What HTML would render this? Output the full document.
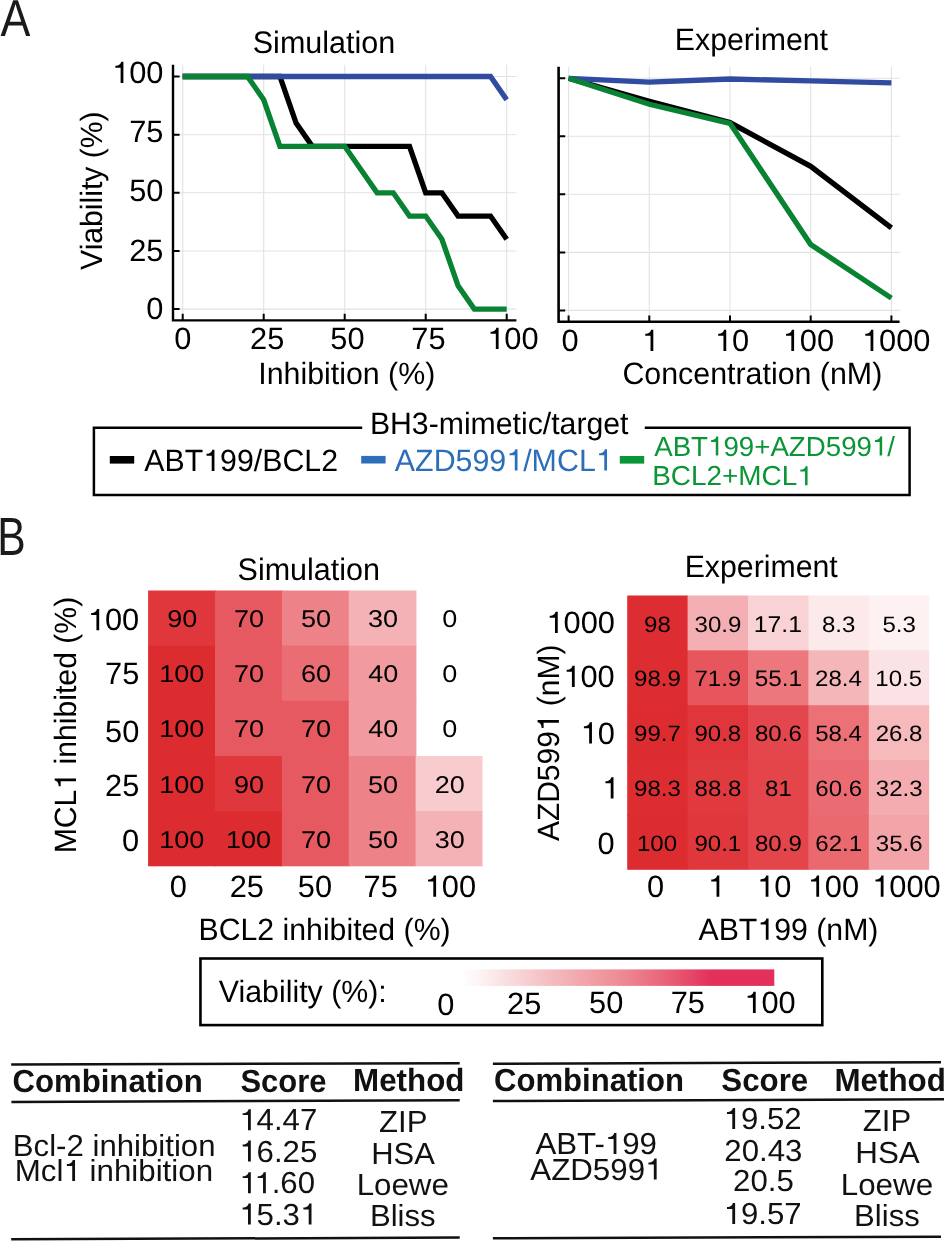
<!DOCTYPE html>
<html><head><meta charset="utf-8"><style>
html,body{margin:0;padding:0;background:#fff;overflow:hidden;}
svg{display:block;will-change:transform;}
text{font-family:"Liberation Sans", sans-serif;text-rendering:geometricPrecision;}
.o{fill-opacity:0;}
</style></head><body>
<svg width="944" height="1241" viewBox="0 0 944 1241">
<rect width="944" height="1241" fill="#fff"></rect>
<g stroke="#e2e2e2" stroke-width="1.1"><line x1="182.7" y1="64.7" x2="182.7" y2="320"></line><line x1="173" y1="309.1" x2="516.4" y2="309.1"></line><line x1="263.7" y1="64.7" x2="263.7" y2="320"></line><line x1="173" y1="251.0" x2="516.4" y2="251.0"></line><line x1="344.7" y1="64.7" x2="344.7" y2="320"></line><line x1="173" y1="192.8" x2="516.4" y2="192.8"></line><line x1="425.7" y1="64.7" x2="425.7" y2="320"></line><line x1="173" y1="134.7" x2="516.4" y2="134.7"></line><line x1="506.7" y1="64.7" x2="506.7" y2="320"></line><line x1="173" y1="76.5" x2="516.4" y2="76.5"></line></g>
<path d="M173,64.7 V321.6 M171.9,320.4 H516.4" stroke="#000" stroke-width="2.4" fill="none"></path>
<path d="M173,309.1 H179.6 M182.7,320 V313.8 M173,251.0 H179.6 M263.7,320 V313.8 M173,192.8 H179.6 M344.7,320 V313.8 M173,134.7 H179.6 M425.7,320 V313.8 M173,76.5 H179.6 M506.7,320 V313.8" stroke="#000" stroke-width="2" fill="none"></path>
<polyline points="182.7,76.5 279.9,76.5 296.1,123.0 312.3,146.3 409.5,146.3 425.7,192.8 441.9,192.8 458.1,216.1 490.5,216.1 506.7,239.3" fill="none" stroke="#000" stroke-width="5.3" stroke-linejoin="miter" stroke-miterlimit="4"></polyline>
<polyline points="182.7,76.5 490.5,76.5 506.7,99.8" fill="none" stroke="#304ba0" stroke-width="5.3" stroke-linejoin="miter" stroke-miterlimit="4"></polyline>
<polyline points="182.7,76.5 247.5,76.5 263.7,99.8 279.9,146.3 344.7,146.3 377.1,192.8 393.3,192.8 409.5,216.1 425.7,216.1 441.9,239.3 458.1,285.8 474.3,309.1 506.7,309.1" fill="none" stroke="#0a8234" stroke-width="5.3" stroke-linejoin="miter" stroke-miterlimit="4"></polyline>
<g stroke="#e2e2e2" stroke-width="1.1"><line x1="568.6" y1="66.8" x2="568.6" y2="321.7"></line><line x1="649.3" y1="66.8" x2="649.3" y2="321.7"></line><line x1="730.0" y1="66.8" x2="730.0" y2="321.7"></line><line x1="810.7" y1="66.8" x2="810.7" y2="321.7"></line><line x1="891.4" y1="66.8" x2="891.4" y2="321.7"></line><line x1="558.6" y1="310.4" x2="899.6" y2="310.4"></line><line x1="558.6" y1="252.4" x2="899.6" y2="252.4"></line><line x1="558.6" y1="194.3" x2="899.6" y2="194.3"></line><line x1="558.6" y1="136.3" x2="899.6" y2="136.3"></line><line x1="558.6" y1="78.3" x2="899.6" y2="78.3"></line></g>
<path d="M558.6,66.8 V323.0 M558.6,321.7 H899.6" stroke="#000" stroke-width="2.6" fill="none"></path>
<path d="M558.6,310.4 H565.2 M558.6,252.4 H565.2 M558.6,194.3 H565.2 M558.6,136.3 H565.2 M558.6,78.3 H565.2 M568.6,321.7 V315.5 M649.3,321.7 V315.5 M730.0,321.7 V315.5 M810.7,321.7 V315.5 M891.4,321.7 V315.5" stroke="#000" stroke-width="2" fill="none"></path>
<polyline points="568.6,78.3 649.3,101.3 730.0,122.6 810.7,166.3 891.4,227.8" fill="none" stroke="#000" stroke-width="5.3" stroke-linejoin="miter" stroke-miterlimit="4"></polyline>
<polyline points="568.6,78.3 649.3,82.2 730.0,79.0 810.7,80.9 891.4,82.9" fill="none" stroke="#304ba0" stroke-width="5.3" stroke-linejoin="miter" stroke-miterlimit="4"></polyline>
<polyline points="568.6,78.3 649.3,104.3 730.0,123.3 810.7,244.5 891.4,298.1" fill="none" stroke="#0a8234" stroke-width="5.3" stroke-linejoin="miter" stroke-miterlimit="4"></polyline>
<path d="M362.2,427.8 H93.9 V494.9 H909.6 V427.8 H644.8" fill="none" stroke="#000" stroke-width="2.5"></path>
<rect x="109.8" y="456.0" width="24.4" height="7.6" fill="#000"></rect>
<rect x="361.2" y="455.9" width="24.4" height="7.6" fill="#2d6eb9"></rect>
<rect x="619.8" y="456.0" width="24.4" height="7.6" fill="#0a9637"></rect>
<rect x="148.10" y="590.50" width="67.68" height="55.96" fill="#e0373c"></rect>
<rect x="214.98" y="590.50" width="67.68" height="55.96" fill="#e75960"></rect>
<rect x="281.86" y="590.50" width="67.68" height="55.96" fill="#ed8389"></rect>
<rect x="348.74" y="590.50" width="67.68" height="55.96" fill="#f4b2b6"></rect>
<rect x="148.10" y="645.66" width="67.68" height="55.96" fill="#dd2c30"></rect>
<rect x="214.98" y="645.66" width="67.68" height="55.96" fill="#e75960"></rect>
<rect x="281.86" y="645.66" width="67.68" height="55.96" fill="#ea6d74"></rect>
<rect x="348.74" y="645.66" width="67.68" height="55.96" fill="#f19a9f"></rect>
<rect x="148.10" y="700.82" width="67.68" height="55.96" fill="#dd2c30"></rect>
<rect x="214.98" y="700.82" width="67.68" height="55.96" fill="#e75960"></rect>
<rect x="281.86" y="700.82" width="67.68" height="55.96" fill="#e75960"></rect>
<rect x="348.74" y="700.82" width="67.68" height="55.96" fill="#f19a9f"></rect>
<rect x="148.10" y="755.98" width="67.68" height="55.96" fill="#dd2c30"></rect>
<rect x="214.98" y="755.98" width="67.68" height="55.96" fill="#e0373c"></rect>
<rect x="281.86" y="755.98" width="67.68" height="55.96" fill="#e75960"></rect>
<rect x="348.74" y="755.98" width="67.68" height="55.96" fill="#ed8389"></rect>
<rect x="415.62" y="755.98" width="66.88" height="55.96" fill="#f8cbce"></rect>
<rect x="148.10" y="811.14" width="67.68" height="55.16" fill="#dd2c30"></rect>
<rect x="214.98" y="811.14" width="67.68" height="55.16" fill="#dd2c30"></rect>
<rect x="281.86" y="811.14" width="67.68" height="55.16" fill="#e75960"></rect>
<rect x="348.74" y="811.14" width="67.68" height="55.16" fill="#ed8389"></rect>
<rect x="415.62" y="811.14" width="66.88" height="55.16" fill="#f4b2b6"></rect>
<rect x="627.20" y="595.50" width="61.20" height="55.66" fill="#de2d32"></rect>
<rect x="687.60" y="595.50" width="61.20" height="55.66" fill="#f4afb4"></rect>
<rect x="748.00" y="595.50" width="61.20" height="55.66" fill="#f9d2d5"></rect>
<rect x="808.40" y="595.50" width="61.20" height="55.66" fill="#fce9ea"></rect>
<rect x="868.80" y="595.50" width="60.40" height="55.66" fill="#fdf1f2"></rect>
<rect x="627.20" y="650.36" width="61.20" height="55.66" fill="#dd2d31"></rect>
<rect x="687.60" y="650.36" width="61.20" height="55.66" fill="#e6565c"></rect>
<rect x="748.00" y="650.36" width="61.20" height="55.66" fill="#ec787e"></rect>
<rect x="808.40" y="650.36" width="61.20" height="55.66" fill="#f5b6ba"></rect>
<rect x="868.80" y="650.36" width="60.40" height="55.66" fill="#fbe3e5"></rect>
<rect x="627.20" y="705.22" width="61.20" height="55.66" fill="#dd2c30"></rect>
<rect x="687.60" y="705.22" width="61.20" height="55.66" fill="#e0363b"></rect>
<rect x="748.00" y="705.22" width="61.20" height="55.66" fill="#e3464c"></rect>
<rect x="808.40" y="705.22" width="61.20" height="55.66" fill="#eb7177"></rect>
<rect x="868.80" y="705.22" width="60.40" height="55.66" fill="#f6babd"></rect>
<rect x="627.20" y="760.08" width="61.20" height="55.66" fill="#dd2d31"></rect>
<rect x="687.60" y="760.08" width="61.20" height="55.66" fill="#e0393e"></rect>
<rect x="748.00" y="760.08" width="61.20" height="55.66" fill="#e3454b"></rect>
<rect x="808.40" y="760.08" width="61.20" height="55.66" fill="#ea6c72"></rect>
<rect x="868.80" y="760.08" width="60.40" height="55.66" fill="#f4acb1"></rect>
<rect x="627.20" y="814.94" width="61.20" height="54.86" fill="#dd2c30"></rect>
<rect x="687.60" y="814.94" width="61.20" height="54.86" fill="#e0373c"></rect>
<rect x="748.00" y="814.94" width="61.20" height="54.86" fill="#e3454b"></rect>
<rect x="808.40" y="814.94" width="61.20" height="54.86" fill="#e9696f"></rect>
<rect x="868.80" y="814.94" width="60.40" height="54.86" fill="#f2a4a9"></rect>
<rect x="200.45" y="958.5" width="621.85" height="66.6" fill="none" stroke="#000" stroke-width="2.6"></rect>
<defs><linearGradient id="cb" x1="0" x2="1" y1="0" y2="0"><stop offset="0" stop-color="#ffffff"></stop><stop offset="0.06" stop-color="#fdf3f4"></stop><stop offset="0.25" stop-color="#f5c4c8"></stop><stop offset="0.5" stop-color="#ee8d94"></stop><stop offset="0.65" stop-color="#e96478"></stop><stop offset="0.8" stop-color="#e2305a"></stop><stop offset="1" stop-color="#e2305a"></stop></linearGradient></defs>
<rect x="461" y="969.4" width="313.3" height="16.5" fill="url(#cb)"></rect>
<path d="M11.2,1064.5 L459.7,1063.2 M11.4,1101.9 L459.7,1100.3 M11.2,1239.3 L459.7,1237.6" stroke="#111" stroke-width="2.5" fill="none"></path>
<path d="M492.9,1063.7 L941,1062.2 M492.9,1101.0 L944,1099.3 M492.9,1238.2 L941,1236.8" stroke="#111" stroke-width="2.5" fill="none"></path>
<text transform="translate(0.60,35.90) scale(0.8625,1)" font-size="52.00" font-weight="normal" fill="#1a1a1a">A</text>
<text transform="translate(252.77,52.90) scale(0.9840,1)" font-size="31.00" font-weight="normal" fill="#000">Simulation</text>
<text transform="translate(674.78,49.70) scale(0.9775,1)" font-size="31.00" font-weight="normal" fill="#000">Experiment</text>
<text transform="translate(112.00,83.10) scale(1.0000,1)" font-size="30.80" font-weight="normal" fill="#000"><tspan class="o">1</tspan>00</text><path d="M11.40,0.00 L11.40,-21.31 L9.18,-21.31 C8.72,-19.03 7.24,-17.43 3.36,-17.25 L3.36,-15.31 L8.62,-15.31 L8.62,0.00 Z" transform="translate(112.00,83.10) scale(1.0000,1)" fill="#000"></path>
<text transform="translate(129.24,142.30) scale(1.0000,1)" font-size="30.80" font-weight="normal" fill="#000">75</text>
<text transform="translate(129.24,201.10) scale(1.0000,1)" font-size="30.80" font-weight="normal" fill="#000">50</text>
<text transform="translate(129.24,261.40) scale(1.0000,1)" font-size="30.80" font-weight="normal" fill="#000">25</text>
<text transform="translate(146.18,318.50) scale(1.0000,1)" font-size="30.80" font-weight="normal" fill="#000">0</text>
<text transform="translate(101.70,269.90) rotate(-90) scale(0.9778,1)" font-size="30.80" font-weight="normal" fill="#000">Viability (%)</text>
<text transform="translate(174.33,349.10) scale(1.0000,1)" font-size="30.80" font-weight="normal" fill="#000">0</text>
<text transform="translate(250.00,349.10) scale(1.0000,1)" font-size="30.80" font-weight="normal" fill="#000">25</text>
<text transform="translate(330.31,349.10) scale(1.0000,1)" font-size="30.80" font-weight="normal" fill="#000">50</text>
<text transform="translate(411.25,349.10) scale(1.0000,1)" font-size="30.80" font-weight="normal" fill="#000">75</text>
<text transform="translate(487.20,349.10) scale(1.0000,1)" font-size="30.80" font-weight="normal" fill="#000"><tspan class="o">1</tspan>00</text><path d="M11.40,0.00 L11.40,-21.31 L9.18,-21.31 C8.72,-19.03 7.24,-17.43 3.36,-17.25 L3.36,-15.31 L8.62,-15.31 L8.62,0.00 Z" transform="translate(487.20,349.10) scale(1.0000,1)" fill="#000"></path>
<text transform="translate(561.53,351.00) scale(1.0000,1)" font-size="30.80" font-weight="normal" fill="#000">0</text>
<text transform="translate(641.91,351.00) scale(1.0000,1)" font-size="30.80" font-weight="normal" fill="#000"><tspan class="o">1</tspan></text><path d="M11.40,0.00 L11.40,-21.31 L9.18,-21.31 C8.72,-19.03 7.24,-17.43 3.36,-17.25 L3.36,-15.31 L8.62,-15.31 L8.62,0.00 Z" transform="translate(641.91,351.00) scale(1.0000,1)" fill="#000"></path>
<text transform="translate(714.83,351.00) scale(1.0000,1)" font-size="30.80" font-weight="normal" fill="#000"><tspan class="o">1</tspan>0</text><path d="M11.40,0.00 L11.40,-21.31 L9.18,-21.31 C8.72,-19.03 7.24,-17.43 3.36,-17.25 L3.36,-15.31 L8.62,-15.31 L8.62,0.00 Z" transform="translate(714.83,351.00) scale(1.0000,1)" fill="#000"></path>
<text transform="translate(782.70,351.00) scale(1.0000,1)" font-size="30.80" font-weight="normal" fill="#000"><tspan class="o">1</tspan>00</text><path d="M11.40,0.00 L11.40,-21.31 L9.18,-21.31 C8.72,-19.03 7.24,-17.43 3.36,-17.25 L3.36,-15.31 L8.62,-15.31 L8.62,0.00 Z" transform="translate(782.70,351.00) scale(1.0000,1)" fill="#000"></path>
<text transform="translate(861.93,351.00) scale(1.0000,1)" font-size="30.80" font-weight="normal" fill="#000"><tspan class="o">1</tspan>000</text><path d="M11.40,0.00 L11.40,-21.31 L9.18,-21.31 C8.72,-19.03 7.24,-17.43 3.36,-17.25 L3.36,-15.31 L8.62,-15.31 L8.62,0.00 Z" transform="translate(861.93,351.00) scale(1.0000,1)" fill="#000"></path>
<text transform="translate(258.27,383.60) scale(0.9849,1)" font-size="30.80" font-weight="normal" fill="#000">Inhibition (%)</text>
<text transform="translate(622.38,384.00) scale(0.9859,1)" font-size="30.80" font-weight="normal" fill="#000">Concentration (nM)</text>
<text transform="translate(369.88,434.20) scale(0.9813,1)" font-size="30.80" font-weight="normal" fill="#000">BH3-mimetic/target</text>
<text transform="translate(144.30,471.00) scale(0.9838,1)" font-size="30.80" font-weight="normal" fill="#000">ABT<tspan class="o">1</tspan>99/BCL2</text><path d="M71.30,0.00 L71.30,-21.31 L69.08,-21.31 C68.62,-19.03 67.14,-17.43 63.26,-17.25 L63.26,-15.31 L68.53,-15.31 L68.53,0.00 Z" transform="translate(144.30,471.00) scale(0.9838,1)" fill="#000"></path>
<text transform="translate(394.80,470.60) scale(0.9866,1)" font-size="30.80" font-weight="normal" fill="#2d6eb9">AZD599<tspan class="o">1</tspan>/MCL<tspan class="o">1</tspan></text><path d="M124.38,0.00 L124.38,-21.31 L122.16,-21.31 C121.70,-19.03 120.22,-17.43 116.34,-17.25 L116.34,-15.31 L121.61,-15.31 L121.61,0.00 Z M215.11,0.00 L215.11,-21.31 L212.90,-21.31 C212.44,-19.03 210.96,-17.43 207.08,-17.25 L207.08,-15.31 L212.34,-15.31 L212.34,0.00 Z" transform="translate(394.80,470.60) scale(0.9866,1)" fill="#2d6eb9"></path>
<text transform="translate(654.20,455.60) scale(1.0065,1)" font-size="27.50" font-weight="normal" fill="#0a9637">ABT<tspan class="o">1</tspan>99+AZD599<tspan class="o">1</tspan>/</text><path d="M63.66,0.00 L63.66,-19.03 L61.68,-19.03 C61.27,-17.00 59.95,-15.56 56.48,-15.40 L56.48,-13.67 L61.18,-13.67 L61.18,0.00 Z M226.49,0.00 L226.49,-19.03 L224.51,-19.03 C224.09,-17.00 222.78,-15.56 219.31,-15.40 L219.31,-13.67 L224.01,-13.67 L224.01,0.00 Z" transform="translate(654.20,455.60) scale(1.0065,1)" fill="#0a9637"></path>
<text transform="translate(652.17,485.20) scale(1.0150,1)" font-size="27.50" font-weight="normal" fill="#0a9637">BCL2+MCL<tspan class="o">1</tspan></text><path d="M153.10,0.00 L153.10,-19.03 L151.12,-19.03 C150.70,-17.00 149.38,-15.56 145.92,-15.40 L145.92,-13.67 L150.62,-13.67 L150.62,0.00 Z" transform="translate(652.17,485.20) scale(1.0150,1)" fill="#0a9637"></path>
<text transform="translate(-2.81,554.50) scale(0.7941,1)" font-size="53.70" font-weight="normal" fill="#1a1a1a">B</text>
<text transform="translate(167.15,627.14) scale(1.1160,1)" font-size="24.23" font-weight="400" fill="#000">90</text>
<text transform="translate(234.03,627.14) scale(1.1160,1)" font-size="24.23" font-weight="400" fill="#000">70</text>
<text transform="translate(301.05,627.14) scale(1.1160,1)" font-size="24.23" font-weight="400" fill="#000">50</text>
<text transform="translate(367.93,627.14) scale(1.1160,1)" font-size="24.23" font-weight="400" fill="#000">30</text>
<text transform="translate(442.24,627.14) scale(1.1160,1)" font-size="24.23" font-weight="400" fill="#000">0</text>
<text transform="translate(159.17,682.30) scale(1.1160,1)" font-size="24.23" font-weight="400" fill="#000">100</text>
<text transform="translate(234.03,682.30) scale(1.1160,1)" font-size="24.23" font-weight="400" fill="#000">70</text>
<text transform="translate(300.91,682.30) scale(1.1160,1)" font-size="24.23" font-weight="400" fill="#000">60</text>
<text transform="translate(368.20,682.30) scale(1.1160,1)" font-size="24.23" font-weight="400" fill="#000">40</text>
<text transform="translate(442.24,682.30) scale(1.1160,1)" font-size="24.23" font-weight="400" fill="#000">0</text>
<text transform="translate(159.17,737.46) scale(1.1160,1)" font-size="24.23" font-weight="400" fill="#000">100</text>
<text transform="translate(234.03,737.46) scale(1.1160,1)" font-size="24.23" font-weight="400" fill="#000">70</text>
<text transform="translate(300.91,737.46) scale(1.1160,1)" font-size="24.23" font-weight="400" fill="#000">70</text>
<text transform="translate(368.20,737.46) scale(1.1160,1)" font-size="24.23" font-weight="400" fill="#000">40</text>
<text transform="translate(442.24,737.46) scale(1.1160,1)" font-size="24.23" font-weight="400" fill="#000">0</text>
<text transform="translate(159.17,792.62) scale(1.1160,1)" font-size="24.23" font-weight="400" fill="#000">100</text>
<text transform="translate(234.03,792.62) scale(1.1160,1)" font-size="24.23" font-weight="400" fill="#000">90</text>
<text transform="translate(300.91,792.62) scale(1.1160,1)" font-size="24.23" font-weight="400" fill="#000">70</text>
<text transform="translate(367.93,792.62) scale(1.1160,1)" font-size="24.23" font-weight="400" fill="#000">50</text>
<text transform="translate(434.67,792.62) scale(1.1160,1)" font-size="24.23" font-weight="400" fill="#000">20</text>
<text transform="translate(159.17,847.78) scale(1.1160,1)" font-size="24.23" font-weight="400" fill="#000">100</text>
<text transform="translate(226.05,847.78) scale(1.1160,1)" font-size="24.23" font-weight="400" fill="#000">100</text>
<text transform="translate(300.91,847.78) scale(1.1160,1)" font-size="24.23" font-weight="400" fill="#000">70</text>
<text transform="translate(367.93,847.78) scale(1.1160,1)" font-size="24.23" font-weight="400" fill="#000">50</text>
<text transform="translate(434.81,847.78) scale(1.1160,1)" font-size="24.23" font-weight="400" fill="#000">30</text>
<text transform="translate(644.04,631.61) scale(1.0800,1)" font-size="22.25" font-weight="400" fill="#000">98</text>
<text transform="translate(694.59,631.61) scale(1.0800,1)" font-size="22.25" font-weight="400" fill="#000">30.9</text>
<text transform="translate(753.82,631.83) scale(1.0800,1)" font-size="22.90" font-weight="400" fill="#000">17.1</text>
<text transform="translate(822.00,631.61) scale(1.0800,1)" font-size="22.25" font-weight="400" fill="#000">8.3</text>
<text transform="translate(882.40,631.61) scale(1.0800,1)" font-size="22.25" font-weight="400" fill="#000">5.3</text>
<text transform="translate(634.07,686.47) scale(1.0800,1)" font-size="22.25" font-weight="400" fill="#000">98.9</text>
<text transform="translate(694.47,686.47) scale(1.0800,1)" font-size="22.25" font-weight="400" fill="#000">71.9</text>
<text transform="translate(754.65,686.46) scale(1.0800,1)" font-size="22.57" font-weight="400" fill="#000">55.1</text>
<text transform="translate(815.03,686.47) scale(1.0800,1)" font-size="22.25" font-weight="400" fill="#000">28.4</text>
<text transform="translate(875.31,686.47) scale(1.0800,1)" font-size="22.25" font-weight="400" fill="#000">10.5</text>
<text transform="translate(634.07,741.33) scale(1.0800,1)" font-size="22.25" font-weight="400" fill="#000">99.7</text>
<text transform="translate(694.47,741.33) scale(1.0800,1)" font-size="22.25" font-weight="400" fill="#000">90.8</text>
<text transform="translate(754.99,741.33) scale(1.0800,1)" font-size="22.25" font-weight="400" fill="#000">80.6</text>
<text transform="translate(815.15,741.33) scale(1.0800,1)" font-size="22.25" font-weight="400" fill="#000">58.4</text>
<text transform="translate(875.67,741.33) scale(1.0800,1)" font-size="22.25" font-weight="400" fill="#000">26.8</text>
<text transform="translate(634.07,796.19) scale(1.0800,1)" font-size="22.25" font-weight="400" fill="#000">98.3</text>
<text transform="translate(694.59,796.19) scale(1.0800,1)" font-size="22.25" font-weight="400" fill="#000">88.8</text>
<text transform="translate(765.08,796.19) scale(1.0800,1)" font-size="22.25" font-weight="400" fill="#000">81</text>
<text transform="translate(815.27,796.19) scale(1.0800,1)" font-size="22.25" font-weight="400" fill="#000">60.6</text>
<text transform="translate(875.79,796.19) scale(1.0800,1)" font-size="22.25" font-weight="400" fill="#000">32.3</text>
<text transform="translate(636.95,851.05) scale(1.0800,1)" font-size="22.25" font-weight="400" fill="#000">100</text>
<text transform="translate(694.47,851.05) scale(1.0800,1)" font-size="22.25" font-weight="400" fill="#000">90.1</text>
<text transform="translate(754.99,851.05) scale(1.0800,1)" font-size="22.25" font-weight="400" fill="#000">80.9</text>
<text transform="translate(815.27,851.05) scale(1.0800,1)" font-size="22.25" font-weight="400" fill="#000">62.1</text>
<text transform="translate(875.79,851.05) scale(1.0800,1)" font-size="22.25" font-weight="400" fill="#000">35.6</text>
<text transform="translate(237.57,580.20) scale(0.9840,1)" font-size="31.00" font-weight="normal" fill="#000">Simulation</text>
<text transform="translate(684.68,576.90) scale(0.9762,1)" font-size="31.00" font-weight="normal" fill="#000">Experiment</text>
<text transform="translate(87.80,630.20) scale(1.0000,1)" font-size="30.80" font-weight="normal" fill="#000"><tspan class="o">1</tspan>00</text><path d="M11.40,0.00 L11.40,-21.31 L9.18,-21.31 C8.72,-19.03 7.24,-17.43 3.36,-17.25 L3.36,-15.31 L8.62,-15.31 L8.62,0.00 Z" transform="translate(87.80,630.20) scale(1.0000,1)" fill="#000"></path>
<text transform="translate(105.04,684.40) scale(1.0000,1)" font-size="30.80" font-weight="normal" fill="#000">75</text>
<text transform="translate(105.04,741.50) scale(1.0000,1)" font-size="30.80" font-weight="normal" fill="#000">50</text>
<text transform="translate(105.04,796.40) scale(1.0000,1)" font-size="30.80" font-weight="normal" fill="#000">25</text>
<text transform="translate(121.98,851.20) scale(1.0000,1)" font-size="30.80" font-weight="normal" fill="#000">0</text>
<text transform="translate(76.00,853.31) rotate(-90) scale(0.9795,1)" font-size="30.80" font-weight="normal" fill="#000">MCL<tspan class="o">1</tspan> inhibited (%)</text><path d="M76.43,0.00 L76.43,-21.31 L74.21,-21.31 C73.75,-19.03 72.27,-17.43 68.39,-17.25 L68.39,-15.31 L73.66,-15.31 L73.66,0.00 Z" transform="translate(76.00,853.31) rotate(-90) scale(0.9795,1)" fill="#000"></path>
<text transform="translate(169.63,896.80) scale(1.0000,1)" font-size="30.80" font-weight="normal" fill="#000">0</text>
<text transform="translate(229.70,896.80) scale(1.0000,1)" font-size="30.80" font-weight="normal" fill="#000">25</text>
<text transform="translate(297.81,896.80) scale(1.0000,1)" font-size="30.80" font-weight="normal" fill="#000">50</text>
<text transform="translate(363.55,896.80) scale(1.0000,1)" font-size="30.80" font-weight="normal" fill="#000">75</text>
<text transform="translate(424.70,896.80) scale(1.0000,1)" font-size="30.80" font-weight="normal" fill="#000"><tspan class="o">1</tspan>00</text><path d="M11.40,0.00 L11.40,-21.31 L9.18,-21.31 C8.72,-19.03 7.24,-17.43 3.36,-17.25 L3.36,-15.31 L8.62,-15.31 L8.62,0.00 Z" transform="translate(424.70,896.80) scale(1.0000,1)" fill="#000"></path>
<text transform="translate(198.48,939.80) scale(0.9819,1)" font-size="30.80" font-weight="normal" fill="#000">BCL2 inhibited (%)</text>
<text transform="translate(546.36,633.00) scale(1.0000,1)" font-size="30.80" font-weight="normal" fill="#000"><tspan class="o">1</tspan>000</text><path d="M11.40,0.00 L11.40,-21.31 L9.18,-21.31 C8.72,-19.03 7.24,-17.43 3.36,-17.25 L3.36,-15.31 L8.62,-15.31 L8.62,0.00 Z" transform="translate(546.36,633.00) scale(1.0000,1)" fill="#000"></path>
<text transform="translate(563.30,687.00) scale(1.0000,1)" font-size="30.80" font-weight="normal" fill="#000"><tspan class="o">1</tspan>00</text><path d="M11.40,0.00 L11.40,-21.31 L9.18,-21.31 C8.72,-19.03 7.24,-17.43 3.36,-17.25 L3.36,-15.31 L8.62,-15.31 L8.62,0.00 Z" transform="translate(563.30,687.00) scale(1.0000,1)" fill="#000"></path>
<text transform="translate(580.54,743.60) scale(1.0000,1)" font-size="30.80" font-weight="normal" fill="#000"><tspan class="o">1</tspan>0</text><path d="M11.40,0.00 L11.40,-21.31 L9.18,-21.31 C8.72,-19.03 7.24,-17.43 3.36,-17.25 L3.36,-15.31 L8.62,-15.31 L8.62,0.00 Z" transform="translate(580.54,743.60) scale(1.0000,1)" fill="#000"></path>
<text transform="translate(602.10,798.50) scale(1.0000,1)" font-size="30.80" font-weight="normal" fill="#000"><tspan class="o">1</tspan></text><path d="M11.40,0.00 L11.40,-21.31 L9.18,-21.31 C8.72,-19.03 7.24,-17.43 3.36,-17.25 L3.36,-15.31 L8.62,-15.31 L8.62,0.00 Z" transform="translate(602.10,798.50) scale(1.0000,1)" fill="#000"></path>
<text transform="translate(597.48,853.90) scale(1.0000,1)" font-size="30.80" font-weight="normal" fill="#000">0</text>
<text transform="translate(558.90,841.10) rotate(-90) scale(0.9730,1)" font-size="30.80" font-weight="normal" fill="#000">AZD599<tspan class="o">1</tspan> (nM)</text><path d="M124.38,0.00 L124.38,-21.31 L122.16,-21.31 C121.70,-19.03 120.22,-17.43 116.34,-17.25 L116.34,-15.31 L121.61,-15.31 L121.61,0.00 Z" transform="translate(558.90,841.10) rotate(-90) scale(0.9730,1)" fill="#000"></path>
<text transform="translate(647.08,896.70) scale(1.0000,1)" font-size="30.80" font-weight="normal" fill="#000">0</text>
<text transform="translate(707.91,896.70) scale(1.0000,1)" font-size="30.80" font-weight="normal" fill="#000"><tspan class="o">1</tspan></text><path d="M11.40,0.00 L11.40,-21.31 L9.18,-21.31 C8.72,-19.03 7.24,-17.43 3.36,-17.25 L3.36,-15.31 L8.62,-15.31 L8.62,0.00 Z" transform="translate(707.91,896.70) scale(1.0000,1)" fill="#000"></path>
<text transform="translate(757.03,896.70) scale(1.0000,1)" font-size="30.80" font-weight="normal" fill="#000"><tspan class="o">1</tspan>0</text><path d="M11.40,0.00 L11.40,-21.31 L9.18,-21.31 C8.72,-19.03 7.24,-17.43 3.36,-17.25 L3.36,-15.31 L8.62,-15.31 L8.62,0.00 Z" transform="translate(757.03,896.70) scale(1.0000,1)" fill="#000"></path>
<text transform="translate(807.70,896.70) scale(1.0000,1)" font-size="30.80" font-weight="normal" fill="#000"><tspan class="o">1</tspan>00</text><path d="M11.40,0.00 L11.40,-21.31 L9.18,-21.31 C8.72,-19.03 7.24,-17.43 3.36,-17.25 L3.36,-15.31 L8.62,-15.31 L8.62,0.00 Z" transform="translate(807.70,896.70) scale(1.0000,1)" fill="#000"></path>
<text transform="translate(872.13,896.70) scale(1.0000,1)" font-size="30.80" font-weight="normal" fill="#000"><tspan class="o">1</tspan>000</text><path d="M11.40,0.00 L11.40,-21.31 L9.18,-21.31 C8.72,-19.03 7.24,-17.43 3.36,-17.25 L3.36,-15.31 L8.62,-15.31 L8.62,0.00 Z" transform="translate(872.13,896.70) scale(1.0000,1)" fill="#000"></path>
<text transform="translate(698.50,939.70) scale(0.9823,1)" font-size="30.80" font-weight="normal" fill="#000">ABT<tspan class="o">1</tspan>99 (nM)</text><path d="M71.30,0.00 L71.30,-21.31 L69.08,-21.31 C68.62,-19.03 67.14,-17.43 63.26,-17.25 L63.26,-15.31 L68.53,-15.31 L68.53,0.00 Z" transform="translate(698.50,939.70) scale(0.9823,1)" fill="#000"></path>
<text transform="translate(218.80,1002.20) scale(0.9848,1)" font-size="30.80" font-weight="normal" fill="#000">Viability (%):</text>
<text transform="translate(437.28,1014.70) scale(1.0000,1)" font-size="30.80" font-weight="normal" fill="#000">0</text>
<text transform="translate(507.05,1014.30) scale(1.0000,1)" font-size="30.80" font-weight="normal" fill="#000">25</text>
<text transform="translate(589.01,1013.30) scale(1.0000,1)" font-size="30.80" font-weight="normal" fill="#000">50</text>
<text transform="translate(670.65,1013.00) scale(1.0000,1)" font-size="30.80" font-weight="normal" fill="#000">75</text>
<text transform="translate(744.30,1013.00) scale(1.0000,1)" font-size="30.80" font-weight="normal" fill="#000"><tspan class="o">1</tspan>00</text><path d="M11.40,0.00 L11.40,-21.31 L9.18,-21.31 C8.72,-19.03 7.24,-17.43 3.36,-17.25 L3.36,-15.31 L8.62,-15.31 L8.62,0.00 Z" transform="translate(744.30,1013.00) scale(1.0000,1)" fill="#000"></path>
<text transform="translate(12.45,1091.80) scale(0.9734,1)" font-size="32.00" font-weight="bold" fill="#111">Combination</text>
<text transform="translate(240.47,1091.60) scale(0.9675,1)" font-size="32.00" font-weight="bold" fill="#111">Score</text>
<text transform="translate(353.11,1091.30) scale(0.9786,1)" font-size="32.00" font-weight="bold" fill="#111">Method</text>
<text transform="translate(493.96,1090.90) scale(0.9718,1)" font-size="32.00" font-weight="bold" fill="#111">Combination</text>
<text transform="translate(721.36,1090.70) scale(0.9767,1)" font-size="32.00" font-weight="bold" fill="#111">Score</text>
<text transform="translate(834.51,1090.50) scale(0.9786,1)" font-size="32.00" font-weight="bold" fill="#111">Method</text>
<text transform="translate(12.81,1156.00) scale(1.0256,1)" font-size="30.40" font-weight="normal" fill="#111">Bcl-2 inhibition</text>
<text transform="translate(14.80,1181.00) scale(1.0294,1)" font-size="30.40" font-weight="normal" fill="#111">Mcl<tspan class="o">1</tspan> inhibition</text><path d="M58.51,0.00 L58.51,-21.04 L56.32,-21.04 C55.87,-18.79 54.41,-17.21 50.58,-17.02 L50.58,-15.11 L55.78,-15.11 L55.78,0.00 Z" transform="translate(14.80,1181.00) scale(1.0294,1)" fill="#111"></path>
<text transform="translate(535.40,1154.00) scale(1.0280,1)" font-size="30.40" font-weight="normal" fill="#111">ABT-<tspan class="o">1</tspan>99</text><path d="M78.81,0.00 L78.81,-21.04 L76.62,-21.04 C76.17,-18.79 74.71,-17.21 70.88,-17.02 L70.88,-15.11 L76.07,-15.11 L76.07,0.00 Z" transform="translate(535.40,1154.00) scale(1.0280,1)" fill="#111"></path>
<text transform="translate(530.30,1179.50) scale(1.0292,1)" font-size="30.40" font-weight="normal" fill="#111">AZD599<tspan class="o">1</tspan></text><path d="M122.75,0.00 L122.75,-21.04 L120.56,-21.04 C120.10,-18.79 118.64,-17.21 114.81,-17.02 L114.81,-15.11 L120.01,-15.11 L120.01,0.00 Z" transform="translate(530.30,1179.50) scale(1.0292,1)" fill="#111"></path>
<text transform="translate(239.27,1130.20) scale(1.0260,1)" font-size="30.40" font-weight="normal" fill="#111"><tspan class="o">1</tspan>4.47</text><path d="M11.25,0.00 L11.25,-21.04 L9.06,-21.04 C8.60,-18.79 7.14,-17.21 3.31,-17.02 L3.31,-15.11 L8.51,-15.11 L8.51,0.00 Z" transform="translate(239.27,1130.20) scale(1.0260,1)" fill="#111"></path>
<text transform="translate(239.27,1161.50) scale(1.0260,1)" font-size="30.40" font-weight="normal" fill="#111"><tspan class="o">1</tspan>6.25</text><path d="M11.25,0.00 L11.25,-21.04 L9.06,-21.04 C8.60,-18.79 7.14,-17.21 3.31,-17.02 L3.31,-15.11 L8.51,-15.11 L8.51,0.00 Z" transform="translate(239.27,1161.50) scale(1.0260,1)" fill="#111"></path>
<text transform="translate(239.27,1193.20) scale(1.0260,1)" font-size="30.40" font-weight="normal" fill="#111"><tspan class="o">1</tspan><tspan class="o">1</tspan>.60</text><path d="M11.25,0.00 L11.25,-21.04 L9.06,-21.04 C8.60,-18.79 7.14,-17.21 3.31,-17.02 L3.31,-15.11 L8.51,-15.11 L8.51,0.00 Z M25.90,0.00 L25.90,-21.04 L23.72,-21.04 C23.26,-18.79 21.80,-17.21 17.97,-17.02 L17.97,-15.11 L23.17,-15.11 L23.17,0.00 Z" transform="translate(239.27,1193.20) scale(1.0260,1)" fill="#111"></path>
<text transform="translate(239.27,1224.50) scale(1.0260,1)" font-size="30.40" font-weight="normal" fill="#111"><tspan class="o">1</tspan>5.3<tspan class="o">1</tspan></text><path d="M11.25,0.00 L11.25,-21.04 L9.06,-21.04 C8.60,-18.79 7.14,-17.21 3.31,-17.02 L3.31,-15.11 L8.51,-15.11 L8.51,0.00 Z M70.40,0.00 L70.40,-21.04 L68.22,-21.04 C67.76,-18.79 66.30,-17.21 62.47,-17.02 L62.47,-15.11 L67.67,-15.11 L67.67,0.00 Z" transform="translate(239.27,1224.50) scale(1.0260,1)" fill="#111"></path>
<text transform="translate(379.07,1132.30) scale(1.0249,1)" font-size="30.40" font-weight="normal" fill="#111">ZIP</text>
<text transform="translate(371.22,1164.00) scale(1.0186,1)" font-size="30.40" font-weight="normal" fill="#111">HSA</text>
<text transform="translate(356.70,1194.60) scale(1.0288,1)" font-size="30.40" font-weight="normal" fill="#111">Loewe</text>
<text transform="translate(369.91,1226.30) scale(1.0247,1)" font-size="30.40" font-weight="normal" fill="#111">Bliss</text>
<text transform="translate(723.58,1129.10) scale(1.0260,1)" font-size="30.40" font-weight="normal" fill="#111"><tspan class="o">1</tspan>9.52</text><path d="M11.25,0.00 L11.25,-21.04 L9.06,-21.04 C8.60,-18.79 7.14,-17.21 3.31,-17.02 L3.31,-15.11 L8.51,-15.11 L8.51,0.00 Z" transform="translate(723.58,1129.10) scale(1.0260,1)" fill="#111"></path>
<text transform="translate(724.36,1160.90) scale(1.0260,1)" font-size="30.40" font-weight="normal" fill="#111">20.43</text>
<text transform="translate(733.09,1191.40) scale(1.0260,1)" font-size="30.40" font-weight="normal" fill="#111">20.5</text>
<text transform="translate(723.58,1224.00) scale(1.0260,1)" font-size="30.40" font-weight="normal" fill="#111"><tspan class="o">1</tspan>9.57</text><path d="M11.25,0.00 L11.25,-21.04 L9.06,-21.04 C8.60,-18.79 7.14,-17.21 3.31,-17.02 L3.31,-15.11 L8.51,-15.11 L8.51,0.00 Z" transform="translate(723.58,1224.00) scale(1.0260,1)" fill="#111"></path>
<text transform="translate(862.77,1131.20) scale(1.0226,1)" font-size="30.40" font-weight="normal" fill="#111">ZIP</text>
<text transform="translate(855.29,1162.90) scale(1.0319,1)" font-size="30.40" font-weight="normal" fill="#111">HSA</text>
<text transform="translate(840.80,1194.80) scale(1.0300,1)" font-size="30.40" font-weight="normal" fill="#111">Loewe</text>
<text transform="translate(854.11,1225.80) scale(1.0230,1)" font-size="30.40" font-weight="normal" fill="#111">Bliss</text>
</svg>
</body></html>
